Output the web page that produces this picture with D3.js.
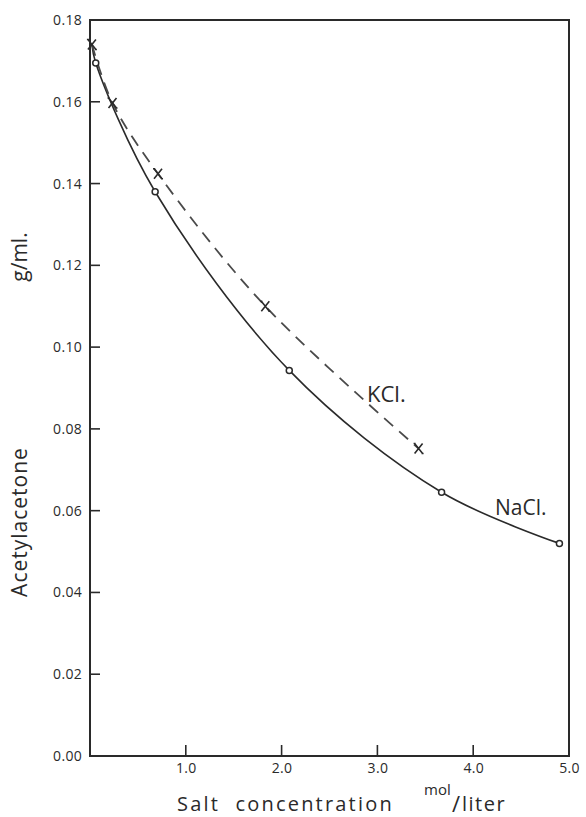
<!DOCTYPE html>
<html>
<head>
<meta charset="utf-8">
<script src="https://cdn.jsdelivr.net/npm/d3@7"></script>
<style>
  html, body { margin: 0; padding: 0; background: #fff; }
  svg { display: block; }
  text { font-family: "Open Sans", "DejaVu Sans", sans-serif; fill: #2a2a2a; }
</style>
</head>
<body>
<svg id="chart" width="586" height="817"></svg>
<script>
// Salt concentration (mol/liter) and acetylacetone solubility (g/ml)
const naclX = [0.06, 0.68, 2.08, 3.67, 4.90];
const naclY = [0.1695, 0.138, 0.0943, 0.0645, 0.052];
const kclX = [0.02, 0.235, 0.71, 1.83, 3.43];
const kclY = [0.174, 0.1597, 0.1424, 0.110, 0.0752];
// both curves start from the salt-free value
const startX = 0.02, startY = 0.174;

const xTicks = [1, 2, 3, 4, 5];
const xTickLabels = ["1.0", "2.0", "3.0", "4.0", "5.0"];
const yTicks = [0, 0.02, 0.04, 0.06, 0.08, 0.10, 0.12, 0.14, 0.16, 0.18];
const yTickLabels = ["0.00", "0.02", "0.04", "0.06", "0.08", "0.10", "0.12", "0.14", "0.16", "0.18"];

const svg = d3.select("#chart");
const plotLeft = 90, plotRight = 569, plotTop = 20, plotBottom = 756;

const x = d3.scaleLinear().domain([0, 5]).range([plotLeft, plotRight]);
const y = d3.scaleLinear().domain([0, 0.18]).range([plotBottom, plotTop]);

const ink = "#2a2a2a";
const fontStack = '"Open Sans", "DejaVu Sans", sans-serif';

// frame
svg.append("rect")
  .attr("x", plotLeft).attr("y", plotTop)
  .attr("width", plotRight - plotLeft).attr("height", plotBottom - plotTop)
  .attr("fill", "none").attr("stroke", ink).attr("stroke-width", 2);

// y axis: inward ticks, labels on the left
const yAxis = d3.axisLeft(y)
  .tickValues(yTicks)
  .tickFormat((d, i) => yTickLabels[i])
  .tickSize(0).tickPadding(8);
const gy = svg.append("g").attr("transform", `translate(${plotLeft},0)`).call(yAxis);
gy.select(".domain").remove();
gy.selectAll("text").attr("font-size", 14).attr("letter-spacing", "0.3px").attr("fill", ink)
  .style("font-family", fontStack);
svg.append("g").selectAll("line")
  .data(yTicks.filter(d => d > 0 && d < 0.18))
  .join("line")
  .attr("x1", plotLeft).attr("x2", plotLeft + 10)
  .attr("y1", d => y(d)).attr("y2", d => y(d))
  .attr("stroke", ink).attr("stroke-width", 1.6);

// x axis: inward ticks, labels below
const xAxis = d3.axisBottom(x)
  .tickValues(xTicks)
  .tickFormat((d, i) => xTickLabels[i])
  .tickSize(0).tickPadding(7);
const gx = svg.append("g").attr("transform", `translate(0,${plotBottom})`).call(xAxis);
gx.select(".domain").remove();
gx.selectAll("text").attr("font-size", 14).attr("letter-spacing", "0.3px").attr("fill", ink)
  .style("font-family", fontStack);
svg.append("g").selectAll("line")
  .data(xTicks.filter(d => d < 5))
  .join("line")
  .attr("x1", d => x(d)).attr("x2", d => x(d))
  .attr("y1", plotBottom).attr("y2", plotBottom - 11)
  .attr("stroke", ink).attr("stroke-width", 1.6);

// curves
const line = d3.line().x(d => x(d[0])).y(d => y(d[1])).curve(d3.curveCatmullRom.alpha(0.5));

const naclPts = naclX.map((v, i) => [v, naclY[i]]);
const kclPts = kclX.map((v, i) => [v, kclY[i]]);

svg.append("path")
  .datum([[startX, startY], ...naclPts])
  .attr("d", line)
  .attr("fill", "none").attr("stroke", ink).attr("stroke-width", 1.6);

svg.append("path")
  .datum(kclPts)
  .attr("d", line)
  .attr("fill", "none").attr("stroke", "#4a4a4a").attr("stroke-width", 1.8)
  .attr("stroke-dasharray", "12,8");

// NaCl markers: open circles
svg.append("g").selectAll("circle")
  .data(naclPts)
  .join("circle")
  .attr("cx", d => x(d[0])).attr("cy", d => y(d[1]))
  .attr("r", 3).attr("fill", "#fff").attr("stroke", ink).attr("stroke-width", 1.5);

// KCl markers: crosses
svg.append("g").selectAll("path")
  .data(kclPts)
  .join("path")
  .attr("transform", d => `translate(${x(d[0])},${y(d[1])})`)
  .attr("d", "M-4,-5L4,5M4,-5L-4,5M-3,-5L-5,-5M3,5L5,5")
  .attr("fill", "none").attr("stroke", ink).attr("stroke-width", 1.6);

// series labels
svg.append("text").attr("x", 367).attr("y", 402)
  .attr("font-size", 22).text("KCl.");
svg.append("text").attr("x", 495).attr("y", 515)
  .attr("font-size", 21).text("NaCl.");

// y axis title
svg.append("text")
  .attr("transform", "translate(27,522) rotate(-90)")
  .attr("text-anchor", "middle").attr("font-size", 21)
  .attr("letter-spacing", "1px").text("Acetylacetone");
svg.append("text")
  .attr("transform", "translate(27,257) rotate(-90)")
  .attr("text-anchor", "middle").attr("font-size", 21).text("g/ml.");

// x axis title
svg.append("text").attr("x", 177).attr("y", 811)
  .attr("font-size", 20).attr("letter-spacing", "2.2px")
  .attr("word-spacing", "8px").text("Salt concentration");
svg.append("text").attr("x", 424).attr("y", 795)
  .attr("font-size", 15).text("mol");
svg.append("text").attr("x", 452).attr("y", 812)
  .attr("font-size", 22).text("/");
svg.append("text").attr("x", 462).attr("y", 811)
  .attr("font-size", 20).attr("letter-spacing", "1.5px").text("liter");
</script>
</body>
</html>
